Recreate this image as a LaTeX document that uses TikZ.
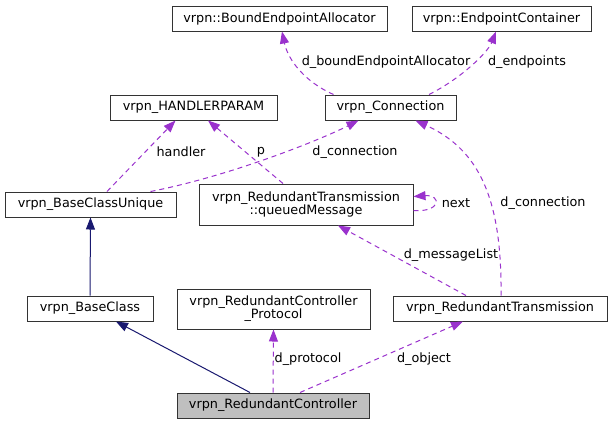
\documentclass[tikz,border=0pt]{standalone}
\usepackage{fontspec}
\setmainfont{DejaVu Sans}
\usetikzlibrary{arrows.meta,calc}
\definecolor{edgep}{HTML}{9A32CD}
\definecolor{edgen}{HTML}{191970}
\definecolor{boxborder}{HTML}{333333}
\definecolor{hilite}{HTML}{BFBFBF}
\begin{document}
\begin{tikzpicture}[x=1pt,y=-1pt,
  font=\fontsize{12.8}{12.8}\selectfont,
  box/.style={draw=boxborder,line width=1pt,fill=white,inner sep=0pt,align=center,minimum height=25pt},
  usage/.style={draw=edgep,line width=1pt,dash pattern=on 5pt off 4pt,-{Triangle[length=12pt,width=9pt,fill=edgep]}},
  inherit/.style={draw=edgen,line width=1pt,-{Triangle[length=12pt,width=9pt,fill=edgen]}},
  lbl/.style={inner sep=0pt,fill=none}]
\useasboundingbox[fill=white] (0,0) rectangle (612,424);

\node[box,minimum width=215pt] (bea) at (279.5,18.5) {vrpn::BoundEndpointAllocator};
\node[box,minimum width=179pt] (ec) at (501.5,18.5) {vrpn::EndpointContainer};
\node[box,minimum width=167pt] (hp) at (193.5,107.5) {vrpn\_HANDLERPARAM};
\node[box,minimum width=131pt] (conn) at (390.5,107.5) {vrpn\_Connection};
\node[box,minimum width=171pt] (bcu) at (90.5,204.5) {vrpn\_BaseClassUnique};
\node[box,minimum width=214pt,minimum height=41pt] (qm) at (306,204.5) {vrpn\_RedundantTransmission\\::queuedMessage};
\node[box,minimum width=126pt] (bc) at (90,308.5) {vrpn\_BaseClass};
\node[box,minimum width=193pt,minimum height=40pt] (proto) at (273.5,309) {vrpn\_RedundantController\\\_Protocol};
\node[box,minimum width=214pt] (rt) at (500,308.5) {vrpn\_RedundantTransmission};
\node[box,minimum width=192pt,fill=hilite] (rc) at (273,405.5) {vrpn\_RedundantController};

% inheritance
\draw[inherit] (bc.north) -- (bcu.south);
\draw[inherit] ($(rc.north)+(-23,0)$) -- ($(bc.south)+(26,0)$);

% usage
\draw[usage] (rc.north) -- (proto.south);
\draw[usage] ($(rc.north)+(27,0)$) -- ($(rt.south)+(-37,0)$);
\draw[usage] ($(rt.north)+(-34,0)$) -- ($(qm.south)+(32,0)$);
\draw[usage] ($(rt.north)+(1,0)$) .. controls (502,200) and (480,150) .. ($(conn.south)+(25,0)$);
\draw[usage] ($(qm.east)+(0,6)$) .. controls +(28,2) and +(28,-2) .. ($(qm.east)+(0,-8)$);
\draw[usage] ($(bcu.north)+(60,0)$) .. controls (230,176) and (320,140) .. ($(conn.south)+(-32,0)$);
\draw[usage] ($(bcu.north)+(16.5,0)$) -- ($(hp.south)+(-18,0)$);
\draw[usage] ($(qm.north)+(-23,0)$) -- ($(hp.south)+(14.5,0)$);
\draw[usage] ($(conn.north)+(-57,0)$) .. controls (305,82) and (288,60) .. ($(bea.south)+(2.5,0)$);
\draw[usage] ($(conn.north)+(38.5,0)$) .. controls (462,78) and (488,52) .. ($(ec.south)+(-5.5,0)$);

% labels
\node[lbl] (l1) at (308,359) {d\_protocol};
\node[lbl] (l2) at (424,359) {d\_object};
\node[lbl] (l3) at (451,255) {d\_messageList};
\node[lbl] (l4) at (543,203) {d\_connection};
\node[lbl] (l5) at (456,203) {next};
\node[lbl] (l6) at (355,152) {d\_connection};
\node[lbl] (l7) at (181,152) {handler};
\node[lbl] (l8) at (261,152) {p};
\node[lbl] (l9) at (386,62) {d\_boundEndpointAllocator};
\node[lbl] (l10) at (527,62) {d\_endpoints};
\end{tikzpicture}
\end{document}
